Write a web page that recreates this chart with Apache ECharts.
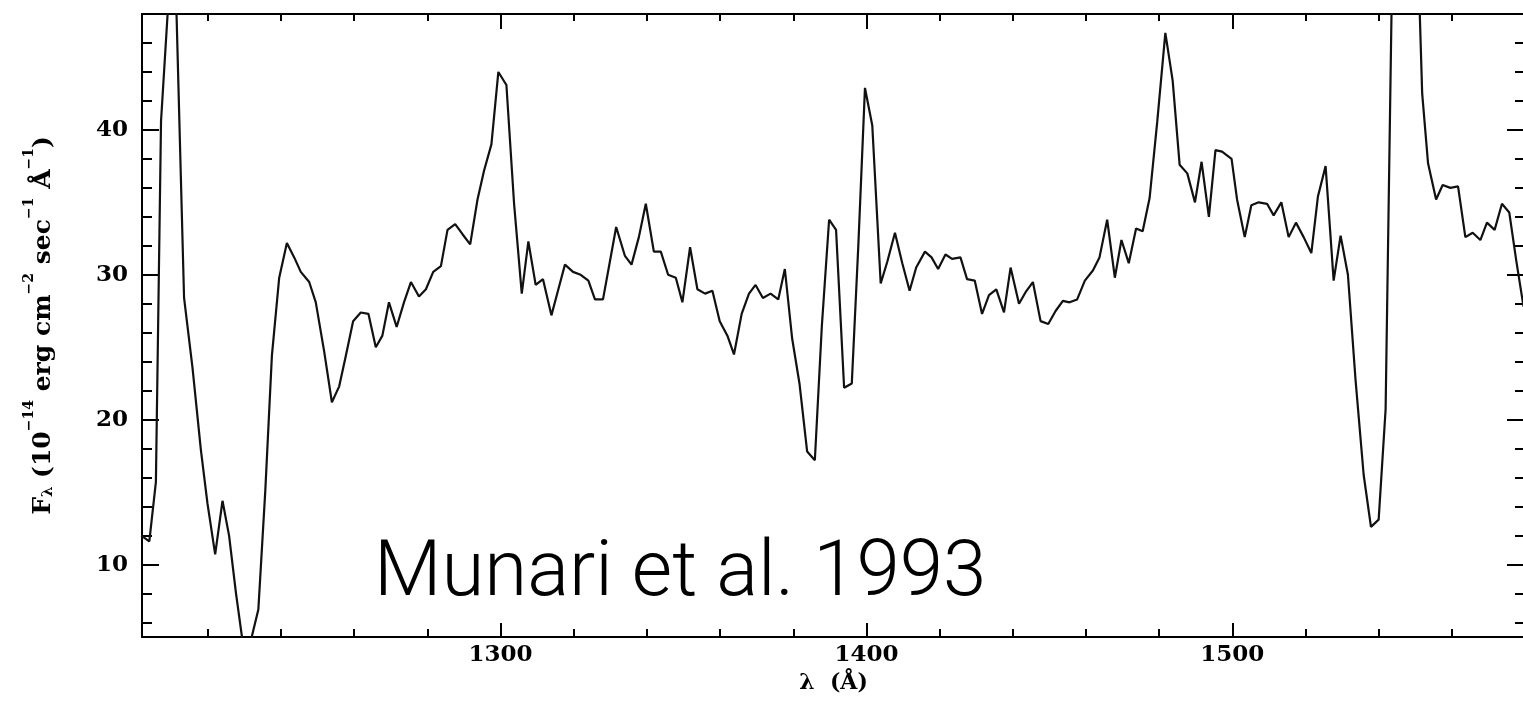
<!DOCTYPE html>
<html><head><meta charset="utf-8">
<script src="https://cdn.jsdelivr.net/npm/echarts@6/dist/echarts.min.js"></script>
<style>html,body{margin:0;padding:0;background:#fff}#c{width:1523px;height:704px}</style>
</head><body><div id="c"></div>
<script>
const wavelength = [1201.8,1204.0,1205.8,1207.2,1210.7,1213.5,1215.8,1218.1,1219.9,1222.0,1224.0,1225.8,1227.7,1229.6,1231.7,1233.8,1235.7,1237.5,1239.5,1241.6,1243.6,1245.4,1247.7,1249.5,1251.8,1253.9,1255.9,1257.7,1259.7,1261.8,1263.9,1265.9,1267.7,1269.5,1271.6,1273.6,1275.5,1277.7,1279.6,1281.6,1283.7,1285.5,1287.6,1289.6,1291.7,1293.7,1295.5,1297.5,1299.4,1301.6,1303.7,1305.8,1307.6,1309.6,1311.6,1313.9,1315.8,1317.6,1319.8,1321.9,1324.0,1325.8,1328.0,1329.8,1331.6,1334.0,1335.8,1337.8,1339.7,1341.9,1343.8,1345.8,1347.9,1349.7,1351.8,1353.8,1355.9,1357.9,1359.9,1362.0,1363.8,1365.9,1367.9,1369.7,1371.7,1373.8,1375.9,1377.7,1379.7,1381.7,1383.8,1385.9,1387.8,1389.8,1391.7,1393.9,1396.0,1397.8,1399.6,1401.6,1403.9,1405.7,1407.8,1409.8,1411.8,1413.6,1416.0,1417.8,1419.6,1421.6,1423.4,1425.7,1427.5,1429.6,1431.6,1433.5,1435.5,1437.6,1439.4,1441.7,1443.5,1445.5,1447.6,1449.7,1451.7,1453.7,1455.5,1457.6,1459.7,1461.9,1463.7,1465.8,1467.9,1469.7,1471.7,1473.7,1475.5,1477.4,1479.5,1481.7,1483.7,1485.6,1487.7,1489.8,1491.6,1493.6,1495.4,1497.2,1499.8,1501.3,1503.4,1505.2,1507.2,1509.5,1511.3,1513.4,1515.4,1517.4,1519.5,1521.6,1523.4,1525.5,1527.7,1529.6,1531.6,1533.7,1535.9,1537.9,1540.0,1541.9,1544.1,1550.4,1551.9,1553.5,1555.7,1557.5,1559.6,1561.7,1563.7,1565.7,1567.8,1569.6,1571.7,1573.7,1575.7,1577.6,1579.6];
const flux = [12.0,11.6,15.7,40.6,55,28.4,23.6,17.9,14.2,10.7,14.4,12.0,8.0,4.5,4.7,6.9,15.1,24.4,29.8,32.2,31.2,30.2,29.5,28.1,24.7,21.2,22.3,24.4,26.8,27.4,27.3,25.0,25.8,28.1,26.4,28.1,29.5,28.5,29.0,30.2,30.6,33.1,33.5,32.8,32.1,35.2,37.2,39.0,44.0,43.1,34.9,28.7,32.3,29.3,29.7,27.2,29.0,30.7,30.2,30.0,29.6,28.3,28.3,30.8,33.3,31.3,30.7,32.6,34.9,31.6,31.6,30.0,29.8,28.1,31.9,29.0,28.7,28.9,26.8,25.8,24.5,27.3,28.7,29.3,28.4,28.7,28.3,30.4,25.6,22.5,17.8,17.2,26.4,33.8,33.1,22.2,22.5,32.1,42.9,40.3,29.4,30.9,32.9,30.8,28.9,30.5,31.6,31.2,30.4,31.4,31.1,31.2,29.7,29.6,27.3,28.6,29.0,27.4,30.5,28.0,28.8,29.5,26.8,26.6,27.5,28.2,28.1,28.3,29.6,30.3,31.2,33.8,29.8,32.4,30.8,33.2,33.0,35.3,40.6,46.7,43.4,37.6,37.0,35.0,37.8,34.0,38.6,38.5,38.0,35.2,32.6,34.8,35.0,34.9,34.1,35.0,32.6,33.6,32.6,31.5,35.4,37.5,29.6,32.7,30.0,22.7,16.2,12.6,13.1,20.7,58,55,42.5,37.7,35.2,36.2,36.0,36.1,32.6,32.9,32.4,33.6,33.1,34.9,34.3,31.0,27.8];
const xMajorTicks = [1300, 1400, 1500];
const xMinorTicks = [1220,1240,1260,1280,1320,1340,1360,1380,1420,1440,1460,1480,1520,1540,1560];
const yMajorTicks = [10, 20, 30, 40];
const yMinorTicks = [6,8,12,14,16,18,22,24,26,28,32,34,36,38,42,44,46];
const xName = 'λ  (Å)';
const annotation = 'Munari et al. 1993';

const X_MIN = 1202, X_MAX = 1580, Y_MIN = 5, Y_MAX = 48;
const serif = 'DejaVu Serif';
const lineCol = '#000';

function xAx(position, ticks, len, opts) {
  return Object.assign({
    type: 'value', position, min: X_MIN, max: X_MAX,
    axisLine: { show: false, onZero: false },
    axisTick: { show: true, inside: true, length: len, customValues: ticks, lineStyle: { color: lineCol, width: 2 } },
    axisLabel: { show: false },
    splitLine: { show: false }
  }, opts || {});
}
function yAx(position, ticks, len, opts) {
  return Object.assign({
    type: 'value', position, min: Y_MIN, max: Y_MAX,
    axisLine: { show: false, onZero: false },
    axisTick: { show: true, inside: true, length: len, customValues: ticks, lineStyle: { color: lineCol, width: 2 } },
    axisLabel: { show: false },
    splitLine: { show: false }
  }, opts || {});
}

const labelStyle = { show: true, color: '#000', fontFamily: serif, fontWeight: 'bold', fontSize: 23,
  formatter: v => String(v) };

const chart = echarts.init(document.getElementById('c'));
chart.setOption({
  backgroundColor: '#fff',
  animation: false,
  grid: { left: 142, right: -2, top: 14, bottom: 67, containLabel: false, outerBoundsMode: 'none' },
  xAxis: [
    xAx('bottom', xMajorTicks, 14, {
      axisLine: { show: true, onZero: false, lineStyle: { color: lineCol, width: 2 } },
      axisLabel: Object.assign({}, labelStyle, { customValues: xMajorTicks, margin: 7 }),
      name: xName, nameLocation: 'middle', nameGap: 34,
      nameTextStyle: { color: '#000', fontFamily: serif, fontWeight: 'bold', fontSize: 22 }
    }),
    xAx('bottom', xMinorTicks, 8),
    xAx('top', xMajorTicks, 15, { axisLine: { show: true, onZero: false, lineStyle: { color: lineCol, width: 2 } } }),
    xAx('top', xMinorTicks, 7)
  ],
  yAxis: [
    yAx('left', yMajorTicks, 17, {
      axisLine: { show: true, onZero: false, lineStyle: { color: lineCol, width: 2 } },
      axisLabel: Object.assign({}, labelStyle, { customValues: yMajorTicks, margin: 14 }),
      name: '{a|F}{s|λ}{a| (10}{p|−14}{a| erg cm}{p|−2}{a| sec}{p|−1}{a| Å}{p|−1}{a|)}',
      nameLocation: 'middle', nameGap: 86, nameRotate: 90,
      nameTextStyle: {
        rich: {
          a: { fontFamily: serif, fontWeight: 'bold', fontSize: 25, color: '#000', lineHeight: 34, verticalAlign: 'bottom' },
          p: { fontFamily: serif, fontWeight: 'bold', fontSize: 14, color: '#000', lineHeight: 14, verticalAlign: 'top' },
          s: { fontFamily: serif, fontWeight: 'bold', fontSize: 15, color: '#000', lineHeight: 15, verticalAlign: 'bottom' }
        }
      }
    }),
    yAx('left', yMinorTicks, 10),
    yAx('right', yMajorTicks, 18, { axisLine: { show: true, onZero: false, lineStyle: { color: lineCol, width: 2 } } }),
    yAx('right', yMinorTicks, 10)
  ],
  series: [{
    type: 'line', xAxisIndex: 0, yAxisIndex: 0,
    data: wavelength.map((w, i) => [w, flux[i]]),
    showSymbol: false, symbol: 'none', clip: true,
    lineStyle: { color: '#111', width: 2.2 }
  }],
  graphic: [{
    type: 'text', z: 100,
    style: { text: annotation, x: 374, y: 575, verticalAlign: 'middle', textVerticalAlign: 'middle',
      font: '300 78px Roboto, "Liberation Sans", sans-serif', fill: '#000' }
  }]
});
</script></body></html>
